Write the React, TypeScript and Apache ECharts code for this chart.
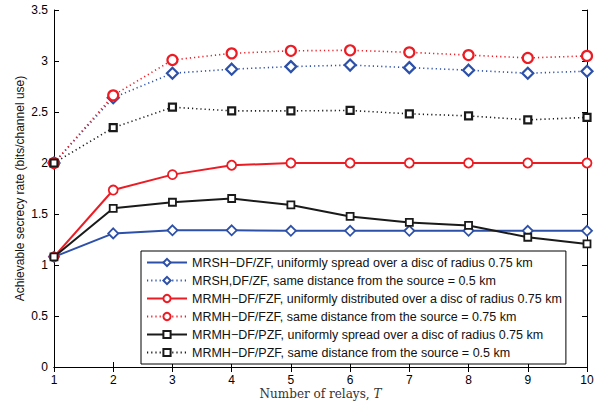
import React, { useEffect, useRef } from "react";
import * as echarts from "echarts";

const relays = [1, 2, 3, 4, 5, 6, 7, 8, 9, 10];
const seriesNames = [
  "MRSH−DF/ZF, uniformly spread over a disc of radius 0.75 km",
  "MRSH,DF/ZF, same distance from the source = 0.5 km",
  "MRMH−DF/FZF, uniformly distributed over a disc of radius 0.75 km",
  "MRMH−DF/FZF, same distance from the source = 0.75 km",
  "MRMH−DF/PZF, uniformly spread over a disc of radius 0.75 km",
  "MRMH−DF/PZF, same distance from the source = 0.5 km",
];
const mrshUniform = [1.08, 1.31, 1.34, 1.34, 1.335, 1.335, 1.335, 1.335, 1.335, 1.335];
const mrshSame = [2.0, 2.64, 2.88, 2.92, 2.945, 2.96, 2.935, 2.91, 2.88, 2.9];
const fzfUniform = [1.08, 1.735, 1.886, 1.978, 2.0, 2.0, 2.0, 2.0, 2.0, 2.0];
const fzfSame = [2.0, 2.663, 3.01, 3.075, 3.1, 3.105, 3.085, 3.058, 3.03, 3.05];
const pzfUniform = [1.08, 1.556, 1.615, 1.652, 1.589, 1.476, 1.417, 1.388, 1.272, 1.207];
const pzfSame = [2.0, 2.346, 2.547, 2.511, 2.511, 2.515, 2.482, 2.462, 2.423, 2.447];
const yTicks = [0, 0.5, 1, 1.5, 2, 2.5, 3, 3.5];

const BLUE = "#2d50a8";
const RED = "#ec1c24";
const BLACK = "#1a1a1a";

export default function App() {
  const ref = useRef<HTMLDivElement>(null);
  useEffect(() => {
    if (!ref.current) return;
    const chart = echarts.init(ref.current, undefined, { renderer: "svg" });
    const mk = (name: string, vals: number[], color: string, symbol: string, size: number, dotted: boolean) => ({
      name,
      type: "line",
      data: relays.map((x, i) => [x, vals[i]]),
      symbol,
      symbolSize: size,
      showAllSymbol: true,
      itemStyle: { color: "#fff", borderColor: color, borderWidth: dotted ? 2.2 : 1.8 },
      lineStyle: { color, width: dotted ? 1.6 : 2, type: dotted ? [1.2, 3] : "solid" },
      z: dotted ? 3 : 4,
    });
    const axisLineStyle = { color: "#000", width: 1 };
    chart.setOption({
      animation: false,
      grid: { left: 54, right: 20, top: 10, bottom: 34 },
      legend: {
        data: seriesNames,
        orient: "vertical",
        left: 141,
        top: 251,
        width: 424,
        padding: [4, 4, 4, 5],
        itemGap: 3,
        itemWidth: 40,
        itemHeight: 9,
        backgroundColor: "#fff",
        borderColor: "#000",
        borderWidth: 1,
        borderRadius: 0,
        textStyle: { fontFamily: "Liberation Sans, Arial, sans-serif", fontSize: 12.5, color: "#111", lineHeight: 15 },
        z: 10,
      },
      xAxis: [
        {
          type: "value",
          min: 1,
          max: 10,
          interval: 1,
          name: "Number of relays, {i|T}",
          nameLocation: "middle",
          nameGap: 21,
          nameMoveOverlap: false,
          nameTextStyle: {
            fontFamily: "DejaVu Serif, Liberation Serif, serif",
            fontSize: 12,
            color: "#333",
            rich: { i: { fontStyle: "italic", fontFamily: "DejaVu Serif, Liberation Serif, serif", fontSize: 12, color: "#333" } },
          },
          axisLine: { show: true, lineStyle: axisLineStyle },
          axisTick: { inside: true, length: 5, lineStyle: axisLineStyle },
          axisLabel: { color: "#000", fontSize: 12, fontFamily: "Liberation Sans, Arial, sans-serif", margin: 7 },
          splitLine: { show: false },
        },
        {
          type: "value",
          position: "top",
          min: 1,
          max: 10,
          interval: 1,
          axisLine: { show: true, lineStyle: axisLineStyle },
          axisTick: { inside: true, length: 5, lineStyle: axisLineStyle },
          axisLabel: { show: false },
          splitLine: { show: false },
        },
      ],
      yAxis: [
        {
          type: "value",
          min: 0,
          max: 3.5,
          interval: 0.5,
          name: "Achievable secrecy rate (bits/channel use)",
          nameLocation: "middle",
          nameGap: 28,
          nameMoveOverlap: false,
          nameTextStyle: { fontFamily: "Liberation Sans, Arial, sans-serif", fontSize: 12, color: "#111" },
          axisLine: { show: true, lineStyle: axisLineStyle },
          axisTick: { inside: true, length: 5, lineStyle: axisLineStyle },
          axisLabel: {
            color: "#000",
            fontSize: 12,
            fontFamily: "Liberation Sans, Arial, sans-serif",
            margin: 6,
            formatter: (v: number) => (yTicks.includes(v) ? String(v) : ""),
          },
          splitLine: { show: false },
        },
        {
          type: "value",
          position: "right",
          min: 0,
          max: 3.5,
          interval: 0.5,
          axisLine: { show: true, lineStyle: axisLineStyle },
          axisTick: { inside: true, length: 5, lineStyle: axisLineStyle },
          axisLabel: { show: false },
          splitLine: { show: false },
        },
      ],
      series: [
        mk(seriesNames[0], mrshUniform, BLUE, "diamond", 10, false),
        mk(seriesNames[1], mrshSame, BLUE, "diamond", 11, true),
        mk(seriesNames[2], fzfUniform, RED, "circle", 9, false),
        mk(seriesNames[3], fzfSame, RED, "circle", 10, true),
        mk(seriesNames[4], pzfUniform, BLACK, "rect", 7, false),
        mk(seriesNames[5], pzfSame, BLACK, "rect", 7, true),
      ],
    });
    return () => chart.dispose();
  }, []);
  return <div ref={ref} style={{ width: 607, height: 405, position: "absolute", left: 0, top: 0, background: "#fff" }} />;
}
